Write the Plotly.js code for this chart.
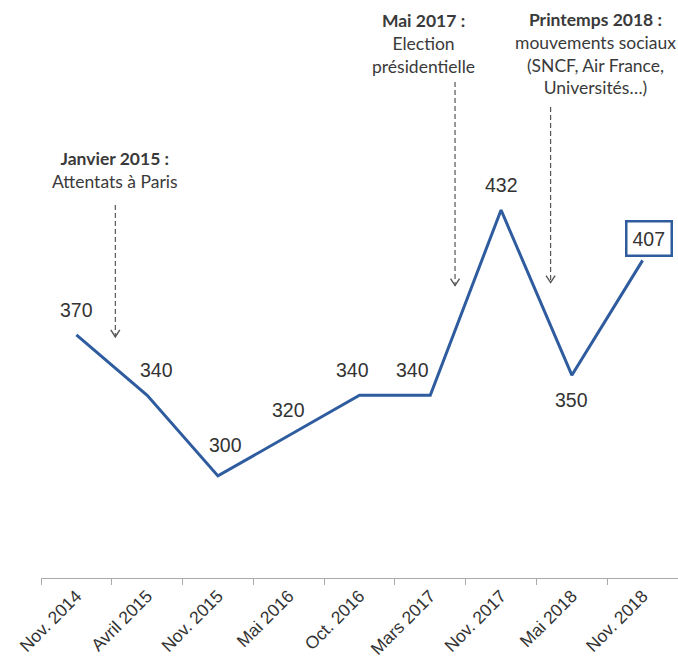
<!DOCTYPE html>
<html>
<head>
<meta charset="utf-8">
<script src="https://cdn.plot.ly/plotly-3.0.1.min.js"></script>
<style>html,body{margin:0;padding:0;background:#fff;}#chart{width:678px;height:658px;}</style>
</head>
<body>
<div id="chart"></div>
<script>
const categories = ['Nov. 2014','Avril 2015','Nov. 2015','Mai 2016','Oct. 2016','Mars 2017','Nov. 2017','Mai 2018','Nov. 2018'];
const values = [370, 340, 300, 320, 340, 340, 432, 350, 407];
const eventTitles = ['Janvier 2015 :', 'Mai 2017 :', 'Printemps 2018 :'];
const eventTexts = ['Attentats à Paris', 'Election<br>présidentielle', 'mouvements sociaux<br>(SNCF, Air France,<br>Universités…)'];

// placement (pixel offsets of value labels, event positions) — layout only
const labelShift = [[0,25],[9,25],[8,31],[0,26],[-7,25],[-18,25],[0,25],[0,-25],[6,22]];
const eventPos = [
  {tx:0.55, ty:452, ax:0.55, y0:434.5, y1:369},
  {tx:4.91, ty:514.5, ax:5.35, y0:495.6, y1:394.5},
  {tx:7.33, ty:509.5, ax:6.70, y0:483.2, y1:396}
];

const lineColor = '#2E5C9E';
const numFont = {family:'Liberation Sans, Arial, sans-serif', size:19.5, color:'#333'};
const evFont = {family:'Lato, sans-serif', size:17.5, color:'#3a3a3a'};

const annotations = [];
values.forEach((v,i)=>{
  const last = i === values.length-1;
  annotations.push({
    x: categories[i], y: v, text: String(v), showarrow:false,
    xshift: labelShift[i][0], yshift: labelShift[i][1],
    font: numFont, xanchor:'center', yanchor:'middle',
    bordercolor: last ? lineColor : 'rgba(0,0,0,0)', borderwidth: last ? 2.5 : 0,
    borderpad: last ? 5 : 0, bgcolor: last ? '#fff' : 'rgba(0,0,0,0)'
  });
});
const shapes = [];
eventTitles.forEach((t,k)=>{
  const p = eventPos[k];
  annotations.push({
    x: p.tx, y: p.ty, xref:'x', yref:'y', showarrow:false,
    text: '<b>'+t+'</b><br>'+eventTexts[k], font: evFont, align:'center',
    xanchor:'center', yanchor:'middle'
  });
  shapes.push({type:'line', xref:'x', yref:'y', x0:p.ax, x1:p.ax, y0:p.y0, y1:p.y1,
    line:{color:'#555', width:1.2, dash:'5px,3px'}});
  shapes.push({type:'path', xref:'x', yref:'y', xsizemode:'pixel', ysizemode:'pixel',
    xanchor:p.ax, yanchor:p.y1, path:'M-4.5,7L0,0L4.5,7',
    line:{color:'#555', width:1.4}});
});

const trace = {
  type:'scatter', mode:'lines', x: categories, y: values,
  line:{color:lineColor, width:3}, hoverinfo:'skip', cliponaxis:false
};

const layout = {
  width:678, height:658,
  margin:{l:41, r:0, t:10, b:80},
  paper_bgcolor:'#fff', plot_bgcolor:'#fff',
  showlegend:false,
  xaxis:{
    type:'category', range:[-0.5, 8.5], tickson:'boundaries',
    showgrid:false, zeroline:false, showline:true, linecolor:'#aaa', linewidth:1,
    ticks:'outside', ticklen:6, tickcolor:'#aaa', tickwidth:1,
    tickangle:-45, tickfont:{family:'Liberation Sans, Arial, sans-serif', size:17.5, color:'#333'}
  },
  yaxis:{range:[249.3, 531.3], visible:false, showgrid:false, zeroline:false},
  annotations: annotations,
  shapes: shapes
};
Plotly.newPlot('chart', [trace], layout, {displayModeBar:false, staticPlot:true});
</script>
</body>
</html>
